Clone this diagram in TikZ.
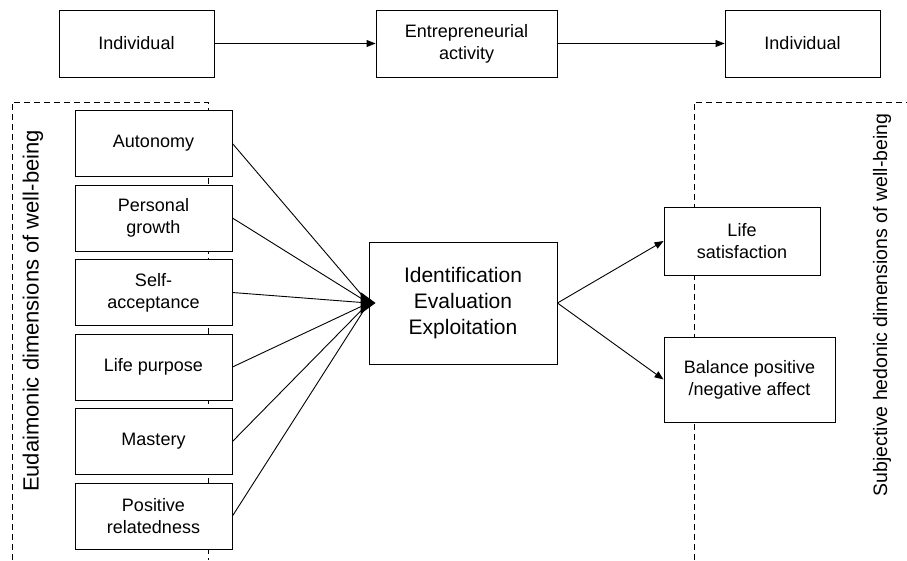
\documentclass[tikz,border=0pt]{standalone}
\usepackage{fontspec}
\setmainfont{Liberation Sans}
\usetikzlibrary{arrows.meta}

\tikzset{
  box/.style={draw, fill=white, line width=0.9pt, align=center, inner sep=0pt,
    font=\fontsize{18}{22}\selectfont},
  dimbox/.style={box, minimum width=157pt, minimum height=66pt},
  link/.style={line width=0.9pt, -{Triangle[length=9pt,width=7pt]}},
  feed/.style={line width=0.9pt, shorten >=-4pt},
  region/.style={line width=0.8pt, dash pattern=on 6pt off 4pt}
}

\begin{document}
\begin{tikzpicture}[x=1pt, y=-1pt]
  \useasboundingbox (0,0) rectangle (907,560);

  % Dashed regions
  \draw[region] (12,560) -- (12,102) -- (208,102) -- (208,560);
  \draw[region] (694,560) -- (694,102) -- (907,102);

  \node[rotate=90, font=\fontsize{22}{26}\selectfont] (eud) at (33,311) {Eudaimonic dimensions of well-being};
  \node[rotate=90, font=\fontsize{19.5}{23}\selectfont] (hed) at (882,305) {Subjective hedonic dimensions of well-being};

  % Top row
  \node[box, minimum width=155pt, minimum height=67pt] (ind1) at (136.5,43.5) {Individual};
  \node[box, minimum width=181pt, minimum height=67pt] (act) at (466.5,43.5) {Entrepreneurial\\activity};
  \node[box, minimum width=155pt, minimum height=67pt] (ind2) at (802.5,43.5) {Individual};
  \draw[link] (ind1) -- (act);
  \draw[link] (act) -- (ind2);

  % Eudaimonic dimensions
  \foreach \name/\txt [count=\i from 0] in {auto/Autonomy, growth/Personal\\growth,
      accept/Self-\\acceptance, purpose/Life purpose, mastery/Mastery,
      related/Positive\\relatedness}
    \node[dimbox] (\name) at (153.5,143.5+74.5*\i) {\txt};

  \node[box, minimum width=188pt, minimum height=122pt,
    font=\fontsize{21}{25.7}\selectfont] (iee) at (463,303) {Identification\\Evaluation\\Exploitation};

  \foreach \name in {auto, growth, accept, purpose, mastery, related}
    \draw[feed] (\name.east) -- (iee.west);
  % shared arrowhead
  \fill (iee.west) ++(7,0) -- ++(-15,-11) -- ++(0,22) -- cycle;

  % Hedonic dimensions
  \node[box, minimum width=156pt, minimum height=68pt] (life) at (742,241) {Life\\satisfaction};
  \node[box, minimum width=171pt, minimum height=85pt] (bal) at (749.5,379.5) {Balance positive\\/negative affect};
  \draw[link] (iee.east) -- (life.west);
  \draw[link] (iee.east) -- (bal.west);
\end{tikzpicture}
\end{document}
